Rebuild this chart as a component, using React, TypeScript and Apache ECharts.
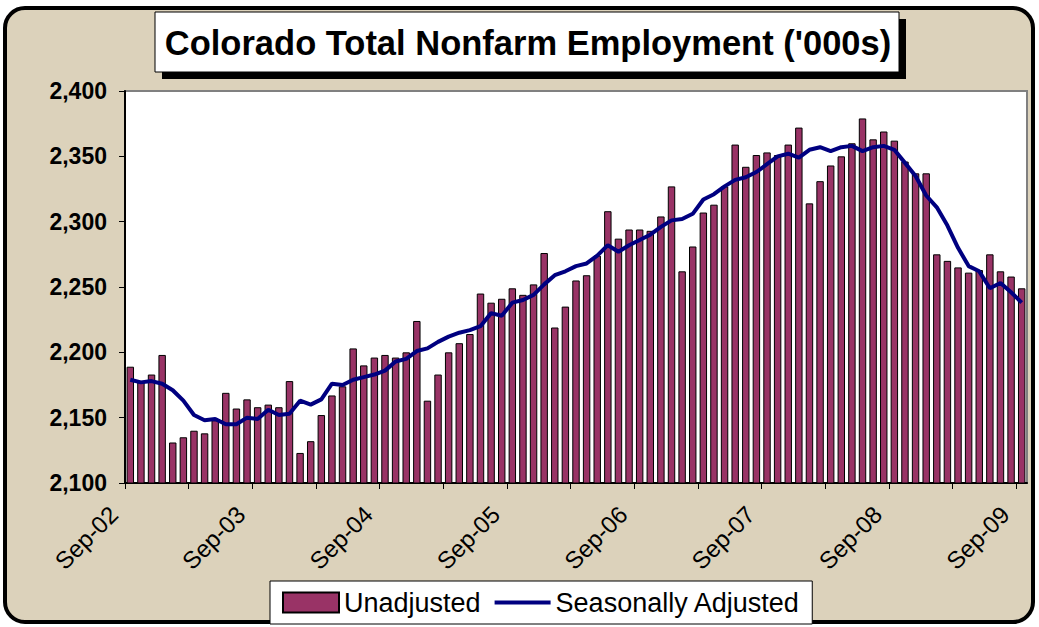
import React, { useEffect, useRef } from "react";
import * as echarts from "echarts";

const monthNames = ["Jan", "Feb", "Mar", "Apr", "May", "Jun", "Jul", "Aug", "Sep", "Oct", "Nov", "Dec"];
const months: string[] = [];
for (let i = 0; i < 85; i++) {
  const m = (8 + i) % 12;
  const y = 2002 + Math.floor((8 + i) / 12);
  months.push(`${monthNames[m]}-${String(y % 100).padStart(2, "0")}`);
}

const xTickLabels = ["Sep-02", "Sep-03", "Sep-04", "Sep-05", "Sep-06", "Sep-07", "Sep-08", "Sep-09"];

const unadjusted = [
  2189, 2177, 2183, 2198, 2131, 2135, 2140, 2138, 2148, 2169, 2157, 2164,
  2158, 2160, 2158, 2178, 2123, 2132, 2152, 2167, 2174, 2203, 2190, 2196,
  2198, 2196, 2200, 2224, 2163, 2183, 2200, 2207, 2214, 2245, 2238, 2241,
  2249, 2244, 2252, 2276, 2219, 2235, 2255, 2259, 2274, 2308, 2287, 2294,
  2294, 2293, 2304, 2327, 2262, 2281, 2307, 2313, 2327, 2359, 2342, 2351,
  2353, 2351, 2359, 2372, 2314, 2331, 2343, 2350, 2360, 2379, 2363, 2369,
  2362, 2346, 2337, 2337, 2275, 2270, 2265, 2261, 2263, 2275, 2262, 2258, 2249,
];

const seasonallyAdjusted = [
  2179, 2177, 2178, 2176, 2171, 2163, 2152, 2148, 2149, 2145, 2145, 2150,
  2149, 2156, 2152, 2153, 2163, 2160, 2164, 2176, 2175, 2179, 2181, 2183,
  2186, 2193, 2195, 2201, 2203, 2208, 2212, 2215, 2217, 2220, 2230, 2228,
  2238, 2240, 2244, 2252, 2259, 2262, 2266, 2268, 2274, 2282, 2277, 2282,
  2286, 2290, 2296, 2301, 2302, 2306, 2317, 2321, 2327, 2332, 2334, 2338,
  2344, 2350, 2352, 2349, 2355, 2357, 2354, 2357, 2358, 2354, 2357, 2358,
  2355, 2345, 2335, 2320, 2311, 2297, 2280, 2266, 2262, 2249, 2253, 2246, 2238,
];

const FONT = "'Liberation Sans', Arial, sans-serif";

export default function App() {
  const ref = useRef<HTMLDivElement>(null);

  useEffect(() => {
    if (!ref.current) return;
    const chart = echarts.init(ref.current, undefined, { renderer: "svg" });
    const option: any = {
      animation: false,
      textStyle: { fontFamily: FONT },
      grid: {
        left: 125,
        right: 12,
        top: 91,
        bottom: 144,
        show: true,
        backgroundColor: "#ffffff",
        borderColor: "#808080",
        borderWidth: 2,
      },
      graphic: [
        {
          type: "group",
          z: 100,
          children: [
            { type: "rect", shape: { x: 162, y: 19, width: 744, height: 60 }, style: { fill: "#000" } },
            { type: "rect", shape: { x: 155, y: 12, width: 744, height: 60 }, style: { fill: "#fff", stroke: "#000", lineWidth: 1 } },
            {
              type: "text",
              x: 528,
              y: 43,
              style: {
                text: "Colorado Total Nonfarm Employment ('000s)",
                font: `bold 34.5px ${FONT}`,
                fill: "#000",
                align: "center",
                verticalAlign: "middle",
              },
            },
          ],
        },
      ],
      legend: {
        left: 270,
        top: 581,
        orient: "horizontal",
        backgroundColor: "#ffffff",
        borderColor: "#000",
        borderWidth: 1,
        borderRadius: 0,
        padding: [8, 12, 8, 12],
        itemWidth: 56,
        itemHeight: 20,
        itemGap: 12,
        textStyle: { fontSize: 27, color: "#000", fontFamily: FONT },
        data: [
          { name: "Unadjusted", icon: "rect" },
          {
            name: "Seasonally Adjusted",
            itemStyle: { color: "rgba(0,0,0,0)", borderWidth: 0, opacity: 0 },
            lineStyle: { color: "#000080", width: 4 },
          },
        ],
      },
      xAxis: [
        {
          type: "category",
          data: months,
          show: false,
          boundaryGap: true,
        },
        {
          type: "value",
          min: 0,
          max: 85,
          interval: 6,
          position: "bottom",
          axisLine: { show: true, lineStyle: { color: "#000", width: 2 } },
          axisTick: { show: true, length: 6, lineStyle: { color: "#000", width: 1 } },
          splitLine: { show: false },
          axisLabel: {
            show: true,
            rotate: 45,
            margin: 16,
            fontSize: 24,
            color: "#000",
            fontFamily: FONT,
            padding: [0, 16, 0, 0],
            showMaxLabel: false,
            formatter: (v: number) => (v % 12 === 0 && v / 12 < xTickLabels.length ? xTickLabels[v / 12] : ""),
          },
        },
      ],
      yAxis: {
        type: "value",
        min: 2100,
        max: 2400,
        interval: 50,
        axisLine: { show: true, lineStyle: { color: "#000", width: 2 } },
        axisTick: { show: true, length: 6, lineStyle: { color: "#000", width: 1 } },
        splitLine: { show: false },
        axisLabel: {
          margin: 18,
          fontSize: 23,
          fontWeight: "bold",
          color: "#000",
          fontFamily: FONT,
          formatter: (v: number) => v.toLocaleString("en-US"),
        },
      },
      series: [
        {
          name: "Unadjusted",
          type: "bar",
          xAxisIndex: 0,
          data: unadjusted,
          barCategoryGap: "30%",
          itemStyle: { color: "#993366", borderColor: "#000", borderWidth: 1 },
        },
        {
          name: "Seasonally Adjusted",
          type: "line",
          xAxisIndex: 0,
          data: seasonallyAdjusted,
          symbol: "none",
          lineStyle: { color: "#000080", width: 4 },
          itemStyle: { color: "#000080" },
          z: 5,
        },
      ],
    };
    chart.setOption(option);
    return () => chart.dispose();
  }, []);

  return (
    <div style={{ position: "fixed", left: 0, top: 0, width: 1039, height: 627, background: "#ffffff" }}>
      <div
        style={{
          position: "absolute",
          left: 3,
          top: 6,
          width: 1032,
          height: 618,
          boxSizing: "border-box",
          border: "4px solid #000",
          borderRadius: 22,
          background: "#dcd2bb",
        }}
      />
      <div ref={ref} style={{ position: "absolute", left: 0, top: 0, width: 1039, height: 627 }} />
    </div>
  );
}
